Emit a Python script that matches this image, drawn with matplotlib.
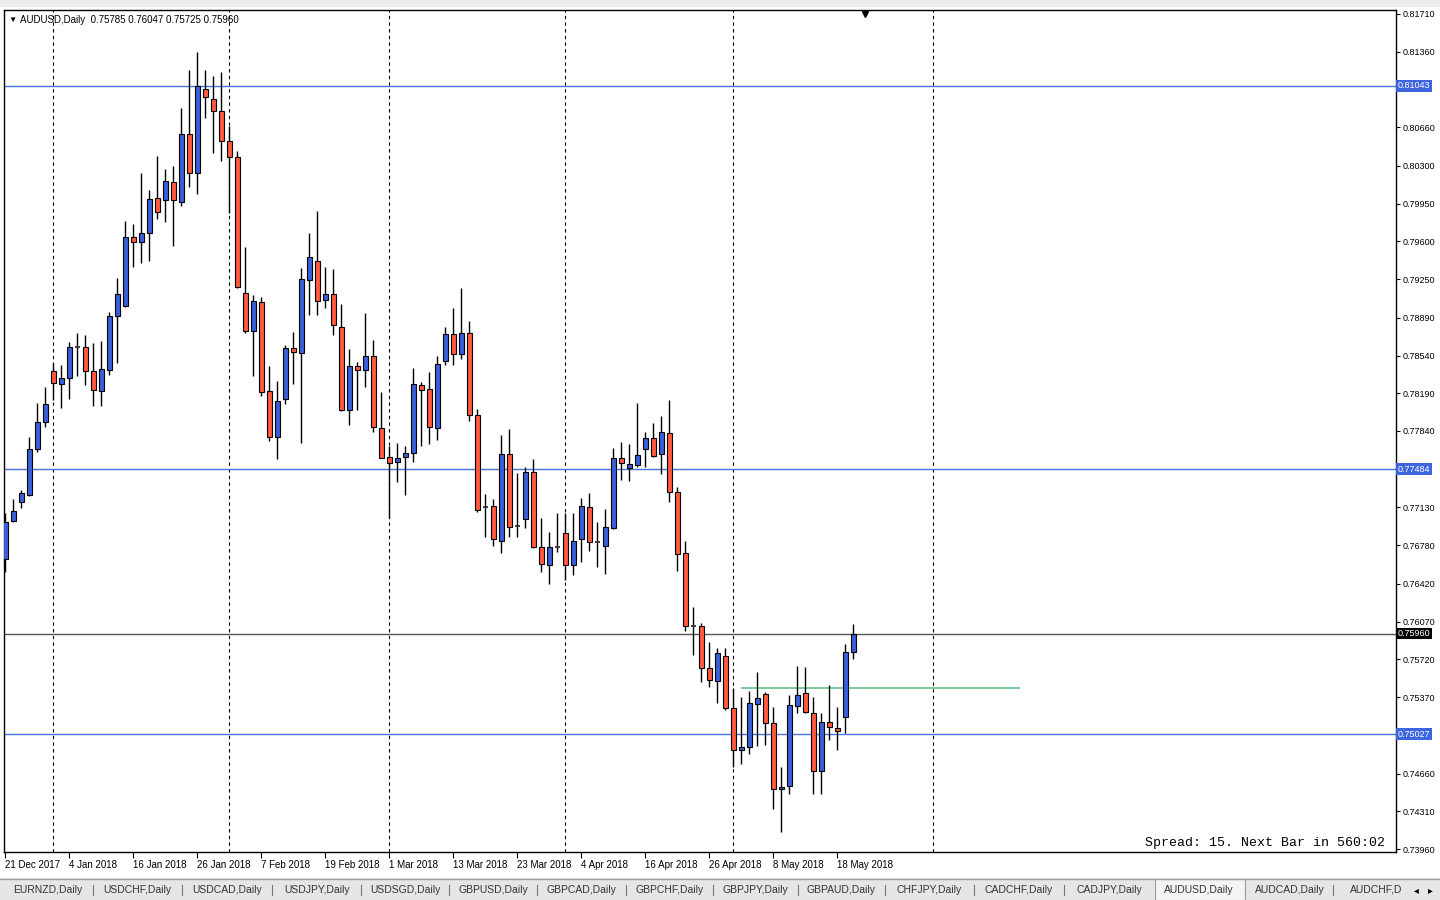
import matplotlib.pyplot as plt
from matplotlib.patches import Rectangle
import matplotlib.transforms as mtransforms

plt.rcParams['font.family'] = ['Liberation Sans', 'DejaVu Sans']

# AUDUSD daily bars, 21 Dec 2017 .. 22 May 2018 (bar index 0..106)
opens = [0.76653, 0.77005, 0.77181, 0.77246, 0.77673, 0.77924, 0.78397, 0.78277, 0.78332, 0.78620,
         0.78620, 0.78397, 0.78212, 0.78406, 0.78908, 0.79000, 0.79641, 0.79594, 0.79678, 0.80003,
         0.79984, 0.80151, 0.79965, 0.80597, 0.80235, 0.81014, 0.80921, 0.80810, 0.80532, 0.80383,
         0.79121, 0.78768, 0.79037, 0.78212, 0.77785, 0.78137, 0.78611, 0.78564, 0.79242, 0.79418,
         0.79056, 0.79112, 0.78805, 0.78035, 0.78444, 0.78406, 0.78536, 0.77868, 0.77599, 0.77553,
         0.77599, 0.77636, 0.78267, 0.78230, 0.77868, 0.78490, 0.78741, 0.78555, 0.78750, 0.77989,
         0.77135, 0.77144, 0.76819, 0.77627, 0.76959, 0.77024, 0.77460, 0.76764, 0.76597, 0.76760,
         0.76894, 0.76597, 0.76838, 0.77135, 0.76810, 0.76773, 0.76940, 0.77590, 0.77497, 0.77525,
         0.77673, 0.77775, 0.77627, 0.77822, 0.77274, 0.76708, 0.76031, 0.76031, 0.75641, 0.75520,
         0.75752, 0.75270, 0.74880, 0.74908, 0.75307, 0.75400, 0.75131, 0.74518, 0.74546, 0.75288,
         0.75409, 0.75223, 0.74685, 0.75140, 0.75084, 0.75186, 0.75785]
highs = [0.77079, 0.77209, 0.77293, 0.77785, 0.78100, 0.78249, 0.78471, 0.78453, 0.78666, 0.78750,
         0.78731, 0.78657, 0.78675, 0.78945, 0.79260, 0.79789, 0.79761, 0.80235, 0.80077, 0.80392,
         0.80272, 0.80300, 0.80838, 0.81190, 0.81357, 0.81190, 0.81135, 0.81172, 0.80671, 0.80439,
         0.79548, 0.79102, 0.79084, 0.78444, 0.78304, 0.78638, 0.78759, 0.79353, 0.79678, 0.79882,
         0.79362, 0.79344, 0.79019, 0.78601, 0.78481, 0.78935, 0.78685, 0.78202, 0.77701, 0.77729,
         0.77701, 0.78425, 0.78295, 0.78388, 0.78536, 0.78805, 0.78982, 0.79167, 0.78861, 0.78045,
         0.77256, 0.77209, 0.77803, 0.77859, 0.77451, 0.77506, 0.77581, 0.77033, 0.76903, 0.77079,
         0.77079, 0.77079, 0.77219, 0.77265, 0.76996, 0.77116, 0.77683, 0.77738, 0.77720, 0.78100,
         0.77831, 0.77915, 0.77980, 0.78128, 0.77321, 0.76819, 0.76207, 0.76059, 0.75882, 0.75827,
         0.75827, 0.75455, 0.75372, 0.75428, 0.75604, 0.75418, 0.75279, 0.74722, 0.75390, 0.75660,
         0.75650, 0.75372, 0.75223, 0.75483, 0.75279, 0.75864, 0.76047]
lows = [0.76532, 0.76996, 0.77126, 0.77237, 0.77645, 0.77877, 0.78128, 0.78054, 0.78137, 0.78351,
        0.78267, 0.78072, 0.78072, 0.78360, 0.78471, 0.78991, 0.79362, 0.79399, 0.79418, 0.79808,
        0.79780, 0.79557, 0.79928, 0.80105, 0.80040, 0.80745, 0.80420, 0.80346, 0.79863, 0.79167,
        0.78750, 0.78351, 0.78165, 0.77748, 0.77581, 0.78091, 0.78277, 0.77729, 0.78917, 0.78917,
        0.78982, 0.78731, 0.78026, 0.77896, 0.78035, 0.78249, 0.77831, 0.77585, 0.77033, 0.77367,
        0.77246, 0.77553, 0.77701, 0.77720, 0.77757, 0.78453, 0.78453, 0.78509, 0.77933, 0.77089,
        0.76857, 0.76773, 0.76708, 0.76857, 0.76857, 0.76940, 0.76754, 0.76532, 0.76421, 0.76717,
        0.76458, 0.76504, 0.76625, 0.76727, 0.76578, 0.76513, 0.76931, 0.77386, 0.77376, 0.77506,
        0.77506, 0.77599, 0.77441, 0.77181, 0.76541, 0.75984, 0.75762, 0.75511, 0.75465, 0.75316,
        0.75251, 0.74722, 0.74750, 0.74843, 0.74917, 0.74926, 0.74333, 0.74119, 0.74472, 0.75223,
        0.75223, 0.74472, 0.74472, 0.74973, 0.74880, 0.75038, 0.75725]
closes = [0.76996, 0.77098, 0.77265, 0.77673, 0.77924, 0.78091, 0.78286, 0.78332, 0.78620, 0.78625,
          0.78397, 0.78221, 0.78416, 0.78908, 0.79112, 0.79641, 0.79594, 0.79678, 0.79993, 0.79873,
          0.80160, 0.79984, 0.80597, 0.80235, 0.81042, 0.80940, 0.80810, 0.80532, 0.80383, 0.79177,
          0.78768, 0.79047, 0.78202, 0.77785, 0.78119, 0.78611, 0.78573, 0.79251, 0.79455, 0.79047,
          0.79112, 0.78824, 0.78035, 0.78444, 0.78406, 0.78536, 0.77877, 0.77590, 0.77543, 0.77590,
          0.77636, 0.78277, 0.78221, 0.77877, 0.78462, 0.78741, 0.78555, 0.78750, 0.77989, 0.77107,
          0.77130, 0.76838, 0.77627, 0.76949, 0.76955, 0.77460, 0.76764, 0.76606, 0.76764, 0.76764,
          0.76597, 0.76819, 0.77144, 0.76810, 0.76805, 0.76949, 0.77590, 0.77543, 0.77534, 0.77618,
          0.77775, 0.77608, 0.77831, 0.77274, 0.76699, 0.76031, 0.76027, 0.75641, 0.75530, 0.75780,
          0.75270, 0.74880, 0.74908, 0.75316, 0.75363, 0.75131, 0.74518, 0.74537, 0.75298, 0.75390,
          0.75233, 0.74685, 0.75140, 0.75094, 0.75056, 0.75785, 0.75960]

# date axis labels (bar index, text)
date_idx = [0, 8, 16, 24, 32, 40, 48, 56, 64, 72, 80, 88, 96, 104]
date_labels = ["21 Dec 2017", "4 Jan 2018", "16 Jan 2018", "26 Jan 2018", "7 Feb 2018",
               "19 Feb 2018", "1 Mar 2018", "13 Mar 2018", "23 Mar 2018", "4 Apr 2018",
               "16 Apr 2018", "26 Apr 2018", "8 May 2018", "18 May 2018"]
# month separators (bar index)
month_sep = [6, 28, 48, 70, 91, 116]

# price scale labels
price_ticks = [0.81710, 0.81360, 0.80660, 0.80300, 0.79950, 0.79600, 0.79250, 0.78890, 0.78540,
               0.78190, 0.77840, 0.77130, 0.76780, 0.76420, 0.76070, 0.75720, 0.75370, 0.74660,
               0.74310, 0.73960]

# horizontal levels
levels = [0.81043, 0.77484, 0.75027]
last_price = 0.75960
green_level = 0.75455
green_span = [92, 126.8]

tabs = ["EURNZD,Daily", "USDCHF,Daily", "USDCAD,Daily", "USDJPY,Daily", "USDSGD,Daily",
        "GBPUSD,Daily", "GBPCAD,Daily", "GBPCHF,Daily", "GBPJPY,Daily", "GBPAUD,Daily",
        "CHFJPY,Daily", "CADCHF,Daily", "CADJPY,Daily", "AUDUSD,Daily", "AUDCAD,Daily", "AUDCHF,D"]
tab_centers = [48, 137, 227, 317, 405, 493, 581, 670, 755, 841, 929, 1019, 1109, 1199, 1290, 1376]

bull = "#3B5FDB"
bear = "#FF5B3E"
level_color = "#4A72DC"

W, H = 1440, 900
fig = plt.figure(figsize=(14.4, 9), dpi=100)
fig.patch.set_facecolor("white")

# top toolbar strip
top = fig.add_axes([0, 1 - 7 / H, 1, 7 / H])
top.set_facecolor("#ECECEC")
top.set_xticks([])
top.set_yticks([])
for s in top.spines.values():
    s.set_visible(False)

# bottom tab strip
bot = fig.add_axes([0, 0, 1, 22 / H])
bot.set_xlim(0, W)
bot.set_ylim(0, 22)
bot.set_facecolor("#E6E6E6")
bot.set_xticks([])
bot.set_yticks([])
for s in bot.spines.values():
    s.set_visible(False)
bot.axhline(21.5, color="#A0A0A0", lw=1)
bot.add_patch(Rectangle((1155, 0), 90, 21.5, facecolor="#F4F4F4", edgecolor="#9A9A9A", lw=0.8))
for name, cx in zip(tabs, tab_centers):
    bot.text(cx, 10, name, ha="center", va="center", fontsize=7.5, color="#333333")
for i in range(len(tab_centers) - 1):
    sx = (tab_centers[i] + tab_centers[i + 1]) / 2
    if i not in (12, 13):
        bot.plot([sx, sx], [5, 15], color="#777777", lw=0.8)
bot.text(1416, 10, "\u25c2", ha="center", va="center", fontsize=7, color="black")
bot.text(1430, 10, "\u25b8", ha="center", va="center", fontsize=7, color="black")

# main chart
ax = fig.add_axes([4 / W, 48 / H, 1392 / W, 842 / H])
ax.set_facecolor("white")
ax.set_xlim(-0.1625, 173.84)
ax.set_ylim(0.739322, 0.817471)
for s in ax.spines.values():
    s.set_color("black")
    s.set_linewidth(1)

for x in month_sep:
    ax.axvline(x, color="black", lw=0.8, ls=(0, (3, 3)), zorder=1)

for lv in levels:
    ax.axhline(lv, color=level_color, lw=1, zorder=2)
ax.axhline(last_price, color="#555555", lw=1, zorder=2)
ax.hlines(green_level, green_span[0], green_span[1], color="#62C08A", lw=1.2, zorder=2)

body_w = 0.6
for i, (o, h, l, c) in enumerate(zip(opens, highs, lows, closes)):
    ax.vlines(i, l, h, color="black", lw=1, zorder=3)
    if abs(c - o) < 0.00006:
        ax.hlines(o, i - body_w / 2, i + body_w / 2, color="#333333", lw=1.3, zorder=4)
        continue
    color = bull if c > o else bear
    ax.add_patch(Rectangle((i - body_w / 2, min(o, c)), body_w, abs(c - o),
                           facecolor=color, edgecolor="black", lw=0.8, zorder=4))

# price scale on the right
ax.yaxis.tick_right()
ax.set_yticks(price_ticks)
ax.set_yticklabels([f"{p:.5f}" for p in price_ticks])
ax.tick_params(axis="y", length=3, width=0.8, labelsize=6.5, pad=2, colors="black")

# date axis
ax.set_xticks(date_idx)
ax.set_xticklabels(date_labels, ha="left")
ax.tick_params(axis="x", length=4, width=0.8, labelsize=7, pad=2)

trans = mtransforms.blended_transform_factory(ax.transAxes, ax.transData)
for lv in levels:
    ax.text(1.0012, lv, f"{lv:.5f}", transform=trans, ha="left", va="center", fontsize=6.5,
            color="white", clip_on=False, zorder=6,
            bbox=dict(boxstyle="square,pad=0.15", facecolor="#3D66DE", edgecolor="none"))
ax.text(1.0012, last_price, f"{last_price:.5f}", transform=trans, ha="left", va="center",
        fontsize=6.5, color="white", clip_on=False, zorder=6,
        bbox=dict(boxstyle="square,pad=0.15", facecolor="black", edgecolor="none"))

# chart shift marker
ax.plot([107.5], [0.81710], marker="v", color="black", markersize=5, clip_on=False, zorder=6)

# header
fig.text(8 / W, 1 - 20 / H, "\u25bc", fontsize=6, va="center", ha="left", color="black")
fig.text(20 / W, 1 - 20 / H,
         f"AUDUSD,Daily  {opens[-1]:.5f} {highs[-1]:.5f} {lows[-1]:.5f} {closes[-1]:.5f}",
         fontsize=7, va="center", ha="left", color="black")

fig.text(1385 / W, 1 - 843 / H, "Spread: 15. Next Bar in 560:02", family="Liberation Mono",
         fontsize=9.5, ha="right", va="center", color="black")

fig.savefig("out.png", dpi=100)
